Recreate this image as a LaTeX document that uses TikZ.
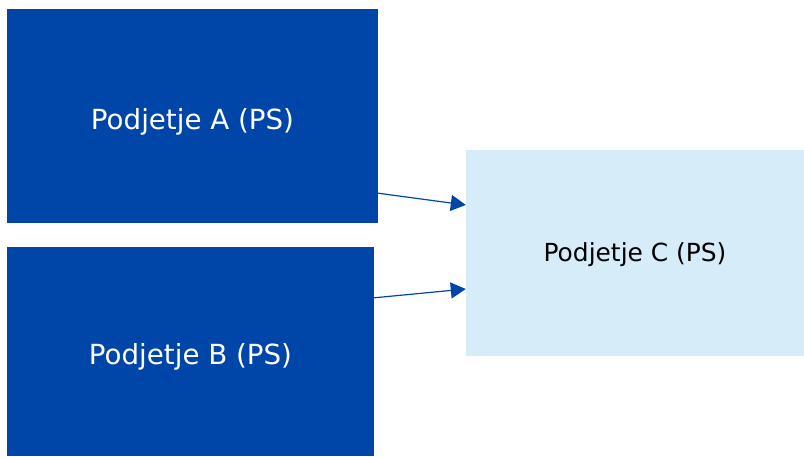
\documentclass[tikz,border=0pt]{standalone}
\usepackage{fontspec}
\setmainfont{DejaVu Sans}
\usetikzlibrary{arrows.meta,calc}
\definecolor{darkblue}{RGB}{0,69,168}
\definecolor{lightblue}{RGB}{214,236,249}
\begin{document}
\begin{tikzpicture}[x=1pt,y=1pt,
  darkbox/.style={rectangle,fill=darkblue,inner sep=0pt,text=white,text depth=0pt,font=\fontsize{27.7}{32}\selectfont},
  lightbox/.style={rectangle,fill=lightblue,inner sep=0pt,text=black,text depth=0pt,font=\fontsize{24.9}{30}\selectfont},
  conn/.style={draw=darkblue,line width=1.2pt,-{Triangle[length=15pt,width=16pt]}}]
\useasboundingbox (0,0) rectangle (804,-456);
\node[darkbox,minimum width=371pt,minimum height=214pt,text height=26.6pt] (A) at (192.5,-116) {Podjetje A (PS)};
\node[darkbox,minimum width=367pt,minimum height=209pt,text height=25pt] (B) at (190.5,-351.5) {Podjetje B (PS)};
\node[lightbox,minimum width=338pt,minimum height=206pt,text height=17.4pt] (C) at (635,-253) {Podjetje C (PS)};
\coordinate (a1) at ($(A.south east)+(0pt,30pt)$);
\coordinate (c1) at ($(C.west)+(0pt,48pt)$);
\coordinate (b1) at ($(B.north east)+(0pt,-51pt)$);
\coordinate (c2) at ($(C.west)+(0pt,-36pt)$);
\draw[conn] (a1) -- (c1);
\draw[conn] (b1) -- (c2);
\end{tikzpicture}
\end{document}
